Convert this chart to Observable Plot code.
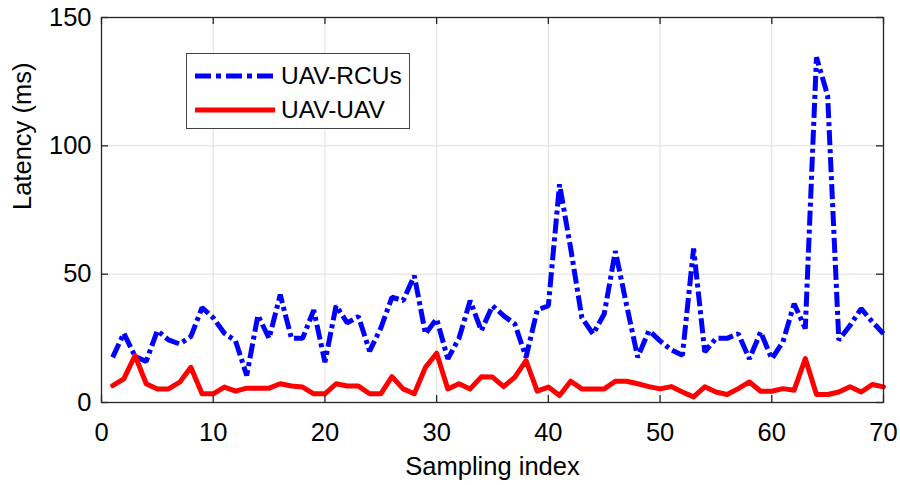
<!DOCTYPE html>
<html>
<head>
<meta charset="utf-8">
<script src="https://cdn.jsdelivr.net/npm/d3@7"></script>
<script src="https://cdn.jsdelivr.net/npm/@observablehq/plot@0.6"></script>
<style>
  html, body { margin: 0; padding: 0; background: #fff; }
  #wrap { position: relative; width: 900px; height: 485px; font-family: "Liberation Sans", Arial, sans-serif; }
  #legend { position: absolute; left: 186px; top: 53px; width: 224px; height: 76px; border: 1px solid #444; background: #fff; box-sizing: border-box; }
  .row { position: absolute; left: 8px; height: 30px; display: flex; align-items: center; }
  .row span { font-size: 24.5px; color: #000; margin-left: 6px; }
</style>
</head>
<body>
<div id="wrap"></div>
<script>
const sampleIndex = d3.range(1, 71);
const uavRcus = [17.6, 27, 18, 16, 28, 24.4, 22.8, 25.7, 37, 33,
  27, 24, 10.5, 34, 25, 42, 25, 25, 36, 15.7,
  37.7, 31, 33.5, 20, 29, 41, 39.7, 49.4, 26.7, 32.6,
  17, 25, 39.7, 28, 37.7, 33.8, 30.6, 17.6, 36, 37.7,
  85, 60, 33, 26.7, 34.5, 59, 38, 17.6, 28, 24,
  20.5, 18.4, 60, 19.7, 25, 25, 26.8, 17, 27.5, 17,
  23.6, 38.5, 28.8, 134.5, 119.6, 24.3, 30, 36.6, 31.4, 26.8];
const uavUav = [6.6, 9.2, 18.3, 7.3, 5.3, 5.3, 7.9, 13.7, 3.4, 3.4,
  6, 4.4, 5.6, 5.6, 5.6, 7.3, 6.4, 6, 3.4, 3.4,
  7.3, 6.4, 6.4, 3.4, 3.4, 10.1, 5.3, 3.4, 13.7, 19.2,
  5.3, 7.3, 5.3, 10, 9.9, 6.2, 9.9, 16.3, 4.4, 6,
  2.7, 8.3, 5.3, 5.3, 5.3, 8.3, 8.3, 7.3, 6.2, 5.3,
  6.2, 4.1, 2.2, 6.1, 4.1, 3.1, 5.4, 8, 4.4, 4.4,
  5.4, 4.8, 17.1, 3.1, 3.1, 4.1, 6.1, 4.1, 7, 6.1];
const xTicks = [0, 10, 20, 30, 40, 50, 60, 70];
const yTicks = [0, 50, 100, 150];
const seriesNames = ["UAV-RCUs", "UAV-UAV"];
const seriesColors = ["#0000ff", "#ff0000"];
const dashes = ["15,4,4,4", null];

const rcuData = sampleIndex.map((x, i) => ({x, y: uavRcus[i]}));
const uuData = sampleIndex.map((x, i) => ({x, y: uavUav[i]}));

const W = 900, H = 485, mL = 101, mR = 17, mT = 17, mB = 83;
const pw = W - mL - mR, ph = H - mT - mB;
const tk = 7;
const axisColor = "#262626";
const fs = 25.5;

const plot = Plot.plot({
  width: W, height: H,
  marginLeft: mL, marginRight: mR, marginTop: mT, marginBottom: mB,
  style: {fontFamily: "'Liberation Sans', Arial, sans-serif", fontSize: fs + "px", color: "#000", background: "#fff"},
  x: {domain: [0, 70], ticks: xTicks, label: null},
  y: {domain: [0, 150], ticks: yTicks, label: null},
  marks: [
    Plot.gridX(xTicks, {stroke: "#e0e0e0", strokeOpacity: 1, strokeWidth: 1}),
    Plot.gridY(yTicks, {stroke: "#e0e0e0", strokeOpacity: 1, strokeWidth: 1}),
    Plot.line(rcuData, {x: "x", y: "y", stroke: seriesColors[0], strokeWidth: 5, strokeDasharray: dashes[0], strokeLinejoin: "miter", strokeLinecap: "butt"}),
    Plot.line(uuData, {x: "x", y: "y", stroke: seriesColors[1], strokeWidth: 5, strokeLinejoin: "round"}),
    Plot.frame({stroke: axisColor, strokeWidth: 1.3}),
    Plot.tickX(xTicks, {x: d => d, insetTop: ph - tk, stroke: axisColor, strokeWidth: 1.3}),
    Plot.tickX(xTicks, {x: d => d, insetBottom: ph - tk, stroke: axisColor, strokeWidth: 1.3}),
    Plot.tickY(yTicks, {y: d => d, insetRight: pw - tk, stroke: axisColor, strokeWidth: 1.3}),
    Plot.tickY(yTicks, {y: d => d, insetLeft: pw - tk, stroke: axisColor, strokeWidth: 1.3}),
    Plot.axisX(xTicks, {tickSize: 0, tickPadding: 20, fontSize: fs, label: null, fill: "#000"}),
    Plot.axisY(yTicks, {tickSize: 0, tickPadding: 10, fontSize: fs, label: null, fill: "#000"}),
    Plot.text(["Sampling index"], {frameAnchor: "bottom", dy: 72, fontSize: fs, fill: "#000"}),
    Plot.text(["Latency (ms)"], {frameAnchor: "left", dx: -79, rotate: -90, fontSize: fs, fill: "#000"})
  ]
});

const wrap = document.getElementById("wrap");
wrap.appendChild(plot);

const legend = document.createElement("div");
legend.id = "legend";
seriesNames.forEach((name, i) => {
  const row = document.createElement("div");
  row.className = "row";
  row.style.top = (i === 0 ? 7 : 41) + "px";
  const ns = "http://www.w3.org/2000/svg";
  const s = document.createElementNS(ns, "svg");
  s.setAttribute("width", 80); s.setAttribute("height", 30);
  const l = document.createElementNS(ns, "line");
  l.setAttribute("x1", 0); l.setAttribute("x2", 80);
  l.setAttribute("y1", 15); l.setAttribute("y2", 15);
  l.setAttribute("stroke", seriesColors[i]);
  l.setAttribute("stroke-width", 5);
  if (dashes[i]) l.setAttribute("stroke-dasharray", "16,5,5,5");
  s.appendChild(l);
  const t = document.createElement("span");
  t.textContent = name;
  row.appendChild(s); row.appendChild(t);
  legend.appendChild(row);
});
wrap.appendChild(legend);
</script>
</body>
</html>
